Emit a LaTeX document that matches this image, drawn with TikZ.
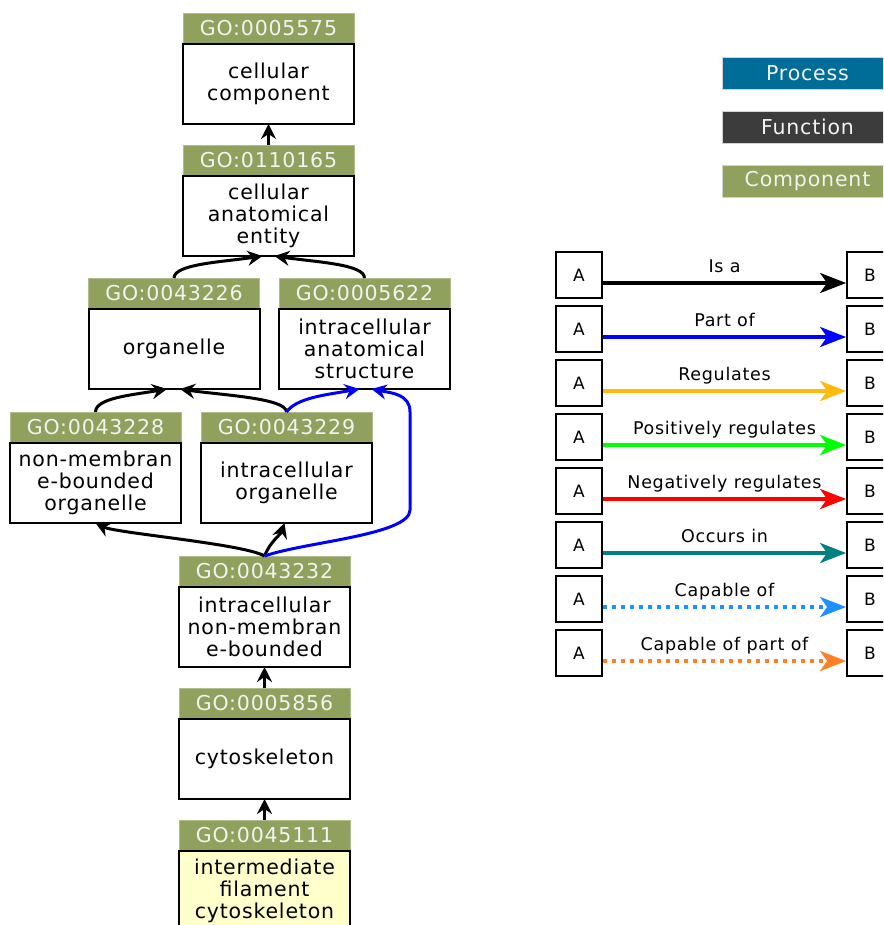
\documentclass[tikz,border=0pt]{standalone}
\usepackage{fontspec}
\newfontfamily\gofont[LetterSpace=4]{DejaVu Sans}
\newfontfamily\legfont[LetterSpace=4]{DejaVu Sans}
\usetikzlibrary{positioning,arrows.meta}
\definecolor{gogreen}{RGB}{143,161,92}
\definecolor{procblue}{RGB}{0,109,153}
\definecolor{funcgray}{RGB}{60,60,60}
\definecolor{hdrtext}{RGB}{242,242,242}
\definecolor{leafyellow}{RGB}{255,255,204}
\definecolor{regorange}{RGB}{255,185,15}
\definecolor{occteal}{RGB}{0,128,128}
\definecolor{capblue}{RGB}{30,144,255}
\definecolor{cappart}{RGB}{255,127,36}
\tikzset{
  gohead/.style={fill=gogreen, draw=gogreen!70!white, line width=0.8pt, text=hdrtext,
    minimum width=171pt, minimum height=31pt, inner sep=0pt, outer sep=0pt,
    font=\gofont\fontsize{20.5}{22}\selectfont},
  gobody/.style={draw, line width=2pt, fill=white, minimum width=171pt,
    minimum height=80pt, inner sep=0pt, outer sep=0pt, align=center,
    font=\gofont\fontsize{20.5}{22}\selectfont},
  catbox/.style={draw=gray!35, line width=0.8pt, text=hdrtext, minimum width=171pt,
    minimum height=32pt, inner sep=0pt, font=\gofont\fontsize{20.5}{22}\selectfont},
  abox/.style={draw, line width=1.8pt, minimum width=46pt, minimum height=46pt,
    inner sep=0pt, font=\legfont\fontsize{17}{20}\selectfont},
  legtext/.style={font=\legfont\fontsize{17.5}{20}\selectfont, inner sep=0pt},
  isa/.style={line width=3pt, -{Stealth[length=15pt,width=15pt,inset=5pt]}},
  partof/.style={isa, blue},
  rel/.style={line width=3.5pt, -{Stealth[length=26pt,width=20pt,inset=7pt]}},
  relisa/.style={rel, black},
  relpart/.style={rel, blue},
  relreg/.style={rel, regorange},
  relpos/.style={rel, green},
  relneg/.style={rel, red},
  relocc/.style={rel, occteal},
  relcap/.style={rel, capblue, dash pattern=on 4pt off 5pt},
  relcappart/.style={rel, cappart, dash pattern=on 4pt off 5pt},
}
\begin{document}
\begin{tikzpicture}[x=1pt, y=-1pt]
    \useasboundingbox (0,0) rectangle (883,925);
    \clip (0,0) rectangle (883,925);
    % Terminos GO (cabecera + cuerpo)
    \node[gohead] (h5575) at (268.5,28.5) {GO:0005575};
    \node[gobody, below=0pt of h5575] (t5575) {cellular\\component};
    \node[gohead] (h110165) at (268.5,160.5) {GO:0110165};
    \node[gobody, below=0pt of h110165] (t110165) {cellular\\anatomical\\entity};
    \node[gohead] (h43226) at (174,293.5) {GO:0043226};
    \node[gobody, below=0pt of h43226] (t43226) {organelle};
    \node[gohead] (h5622) at (364.5,293.5) {GO:0005622};
    \node[gobody, below=0pt of h5622] (t5622) {intracellular\\anatomical\\structure};
    \node[gohead] (h43228) at (95.5,427.5) {GO:0043228};
    \node[gobody, below=0pt of h43228] (t43228) {non-membran\\e-bounded\\organelle};
    \node[gohead] (h43229) at (286.5,427.5) {GO:0043229};
    \node[gobody, below=0pt of h43229] (t43229) {intracellular\\organelle};
    \node[gohead] (h43232) at (264.5,571.5) {GO:0043232};
    \node[gobody, below=0pt of h43232] (t43232) {intracellular\\non-membran\\e-bounded};
    \node[gohead] (h5856) at (264.5,703.5) {GO:0005856};
    \node[gobody, below=0pt of h5856] (t5856) {cytoskeleton};
    \node[gohead] (h45111) at (264.5,835.5) {GO:0045111};
    \node[gobody, fill=leafyellow, below=0pt of h45111] (t45111) {intermediate\\filament\\cytoskeleton};
    % Relaciones "is a"
    \draw[isa] (h110165.north) -- (t5575.south);
    \draw[isa] (h43226.north) .. controls +(0,-14) and +(-40,6) .. ([xshift=-6pt]t110165.south);
    \draw[isa] (h5622.north) .. controls +(0,-14) and +(40,6) .. ([xshift=6pt]t110165.south);
    \draw[isa] (h43228.north) .. controls +(0,-14) and +(-35,6) .. ([xshift=-7pt]t43226.south);
    \draw[isa] (h43229.north) .. controls +(0,-14) and +(40,6) .. ([xshift=6pt]t43226.south);
    \draw[isa] (h43232.north) .. controls +(-20,-12) and +(20,10) .. (t43228.south);
    \draw[isa] (h43232.north) .. controls +(6,-15) and +(-4,12) .. ([xshift=-2pt]t43229.south);
    \draw[isa] (h5856.north) -- (t43232.south);
    \draw[isa] (h45111.north) -- (t5856.south);
    % Relaciones "part of"
    \coordinate (pb1) at (410,510);
    \coordinate (pb2) at (410,412);
    \draw[partof] (h43229.north) .. controls +(10,-14) and +(-35,6) .. ([xshift=-5pt]t5622.south);
    \draw[partof] (h43232.north) .. controls +(40,-14) and +(0,25) .. (pb1) -- (pb2)
        .. controls +(0,-18) and +(20,4) .. ([xshift=7pt]t5622.south);
    % Leyenda de categorias
    \node[catbox, fill=procblue] (proc) at (807.5,73) {Process};
    \node[catbox, fill=funcgray] (func) at (807.5,127) {Function};
    \node[catbox, fill=gogreen] (comp) at (807.5,181) {Component};
    % Leyenda de relaciones
    \foreach \i/\lab/\rel in {1/Is a/relisa, 2/Part of/relpart, 3/Regulates/relreg,
        4/Positively regulates/relpos, 5/Negatively regulates/relneg,
        6/Occurs in/relocc, 7/Capable of/relcap, 8/Capable of part of/relcappart}{
        \node[abox] (A\i) at (579,{221+54*\i}) {A};
        \node[abox] (B\i) at (870,{221+54*\i}) {B};
        \draw[\rel] ([yshift=-8pt]A\i.east) -- ([yshift=-8pt]B\i.west)
            node[midway, anchor=base, yshift=11pt, legtext, text=black] {\lab};
    }
\end{tikzpicture}
\end{document}
